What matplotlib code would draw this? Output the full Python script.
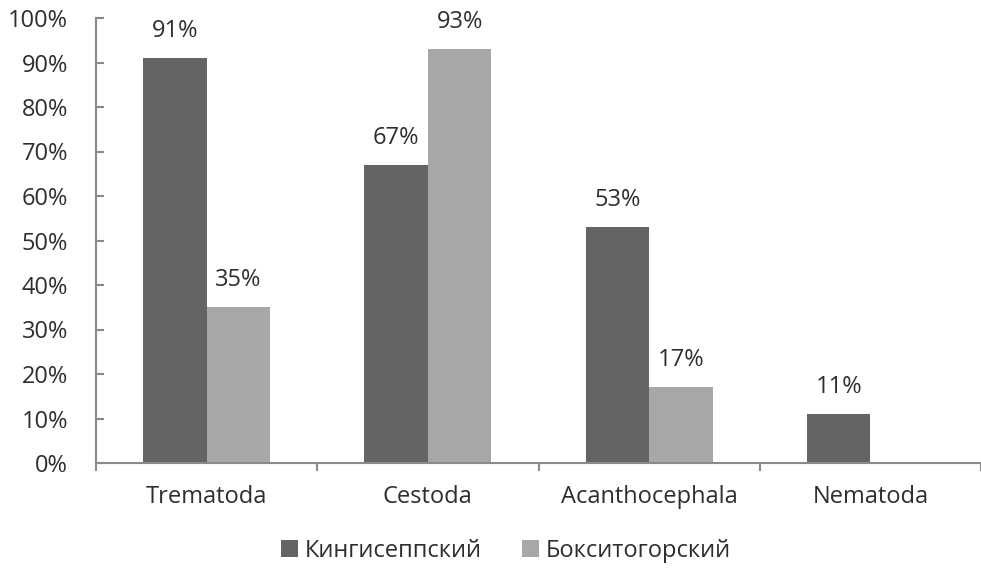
import matplotlib
matplotlib.use("Agg")
import matplotlib.pyplot as plt
import numpy as np

categories = ["Trematoda", "Cestoda", "Acanthocephala", "Nematoda"]
kingisepp = [91, 67, 53, 11]
boksitogorsk = [35, 93, 17, 0]
series_names = ["Кингисеппский", "Бокситогорский"]
yticks = [0, 10, 20, 30, 40, 50, 60, 70, 80, 90, 100]

plt.rcParams['font.family'] = ['Open Sans', 'DejaVu Sans']
text_color = "#2e2e2e"
axis_color = "#8a8a8a"
dark = "#646467"
light = "#a7a7aa"
fs = 17

fig = plt.figure(figsize=(9.81, 5.72), dpi=100)
ax = fig.add_axes([96/981, 1-463/572, 885/981, 445/572])

x = np.arange(len(categories))
w = 0.287
b1 = ax.bar(x - w/2, kingisepp, w, color=dark, label=series_names[0])
b2 = ax.bar(x + w/2, boksitogorsk, w, color=light, label=series_names[1])

for bars, vals in ((b1, kingisepp), (b2, boksitogorsk)):
    for rect, v in zip(bars, vals):
        if v > 0:
            ax.annotate(f"{v}%", (rect.get_x() + rect.get_width()/2, v),
                        xytext=(0, 11), textcoords="offset points",
                        ha="center", va="bottom", fontsize=fs, color=text_color)

ax.set_xlim(-0.5, len(categories) - 0.5)
ax.set_ylim(0, 100)
ax.set_yticks(yticks)
ax.set_yticklabels([f"{t}%" for t in yticks])
ax.set_xticks(x)
ax.set_xticklabels(categories)
ax.set_xticks(np.arange(len(categories) + 1) - 0.5, minor=True)

for s in ("top", "right"):
    ax.spines[s].set_visible(False)
for s in ("left", "bottom"):
    ax.spines[s].set_color(axis_color)
    ax.spines[s].set_linewidth(1.5)

ax.tick_params(axis="y", direction="in", length=6, width=1.5, color=axis_color,
               labelsize=fs, labelcolor=text_color, pad=20)
ax.tick_params(axis="x", which="major", length=0, labelsize=fs,
               labelcolor=text_color, pad=16)
ax.tick_params(axis="x", which="minor", direction="out", length=6, width=1.5,
               color=axis_color)

fig.legend(handles=[b1, b2], labels=series_names, loc="center",
           bbox_to_anchor=(506/981, 1-551/572), ncol=2, frameon=False,
           fontsize=fs, labelcolor=text_color, handlelength=0.7, handleheight=0.7,
           handletextpad=0.3, columnspacing=1.7)

fig.savefig("out.png", dpi=100)
